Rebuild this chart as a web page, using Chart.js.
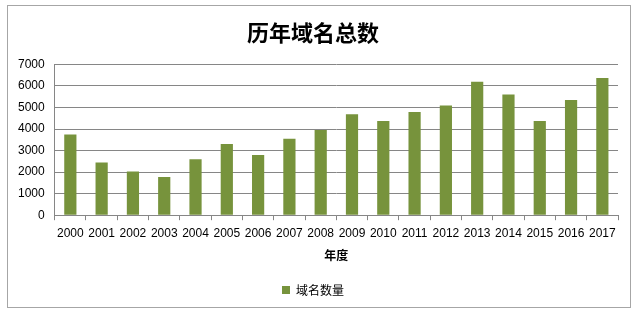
<!DOCTYPE html>
<html>
<head>
<meta charset="utf-8">
<script src="https://cdn.jsdelivr.net/npm/chart.js@4/dist/chart.umd.min.js"></script>
<style>
  html, body { margin: 0; padding: 0; background: #fff; }
  #box {
    position: absolute; left: 7px; top: 5px;
    width: 622px; height: 301px;
    border: 1px solid #a6a6a6;
  }
</style>
</head>
<body>
<div id="box"><canvas id="chart"></canvas></div>
<script>
var years = ['2000', '2001', '2002', '2003', '2004', '2005', '2006', '2007', '2008',
  '2009', '2010', '2011', '2012', '2013', '2014', '2015', '2016', '2017'];
var domainCounts = [3750, 2450, 2030, 1770, 2600, 3300, 2800, 3550, 3950,
  4690, 4370, 4790, 5090, 6190, 5600, 4370, 5350, 6370];
var yTicks = [0, 1000, 2000, 3000, 4000, 5000, 6000, 7000];

var ctx = document.getElementById('chart');
var chart = new Chart(ctx, {
  type: 'bar',
  data: {
    labels: years,
    datasets: [
      {
        label: '域名数量',
        data: domainCounts,
        backgroundColor: '#77933c',
        barPercentage: 0.39,
        categoryPercentage: 1,
      },
    ],
  },
  options: {
    responsive: true,
    maintainAspectRatio: false,
    animation: false,
    layout: { padding: { left: 0, right: 12, top: 0, bottom: 1 } },
    plugins: {
      title: {
        display: true,
        text: '历年域名总数',
        color: '#000',
        font: { family: 'Noto Sans CJK SC', size: 22, weight: 'bold' },
        padding: { top: 13, bottom: 19 },
      },
      legend: {
        position: 'bottom',
        labels: {
          color: '#000',
          boxWidth: 8,
          boxHeight: 8,
          font: { family: 'Noto Sans CJK SC', size: 12 },
          padding: 6,
        },
      },
      tooltip: { enabled: false },
    },
    scales: {
      x: {
        grid: {
          offset: true,
          drawOnChartArea: false,
          drawTicks: true,
          tickLength: 5,
          color: '#868686',
        },
        border: { color: '#868686' },
        ticks: {
          color: '#000',
          autoSkip: false,
          maxRotation: 0,
          padding: 6,
          font: { family: 'Liberation Sans', size: 12 },
        },
        title: {
          display: true,
          text: '年度',
          color: '#000',
          font: { family: 'Noto Sans CJK SC', size: 12, weight: 'bold' },
          padding: { top: 2, bottom: 15 },
        },
      },
      y: {
        min: 0,
        max: 7000,
        afterBuildTicks: function (axis) {
          axis.ticks = yTicks.map(function (v) { return { value: v }; });
        },
        grid: { color: '#868686', drawTicks: false },
        border: { color: '#868686' },
        ticks: {
          color: '#000',
          padding: 10,
          font: { family: 'Liberation Sans', size: 12 },
          callback: function (v) { return String(v); },
        },
      },
    },
  },
});
</script>
</body>
</html>
